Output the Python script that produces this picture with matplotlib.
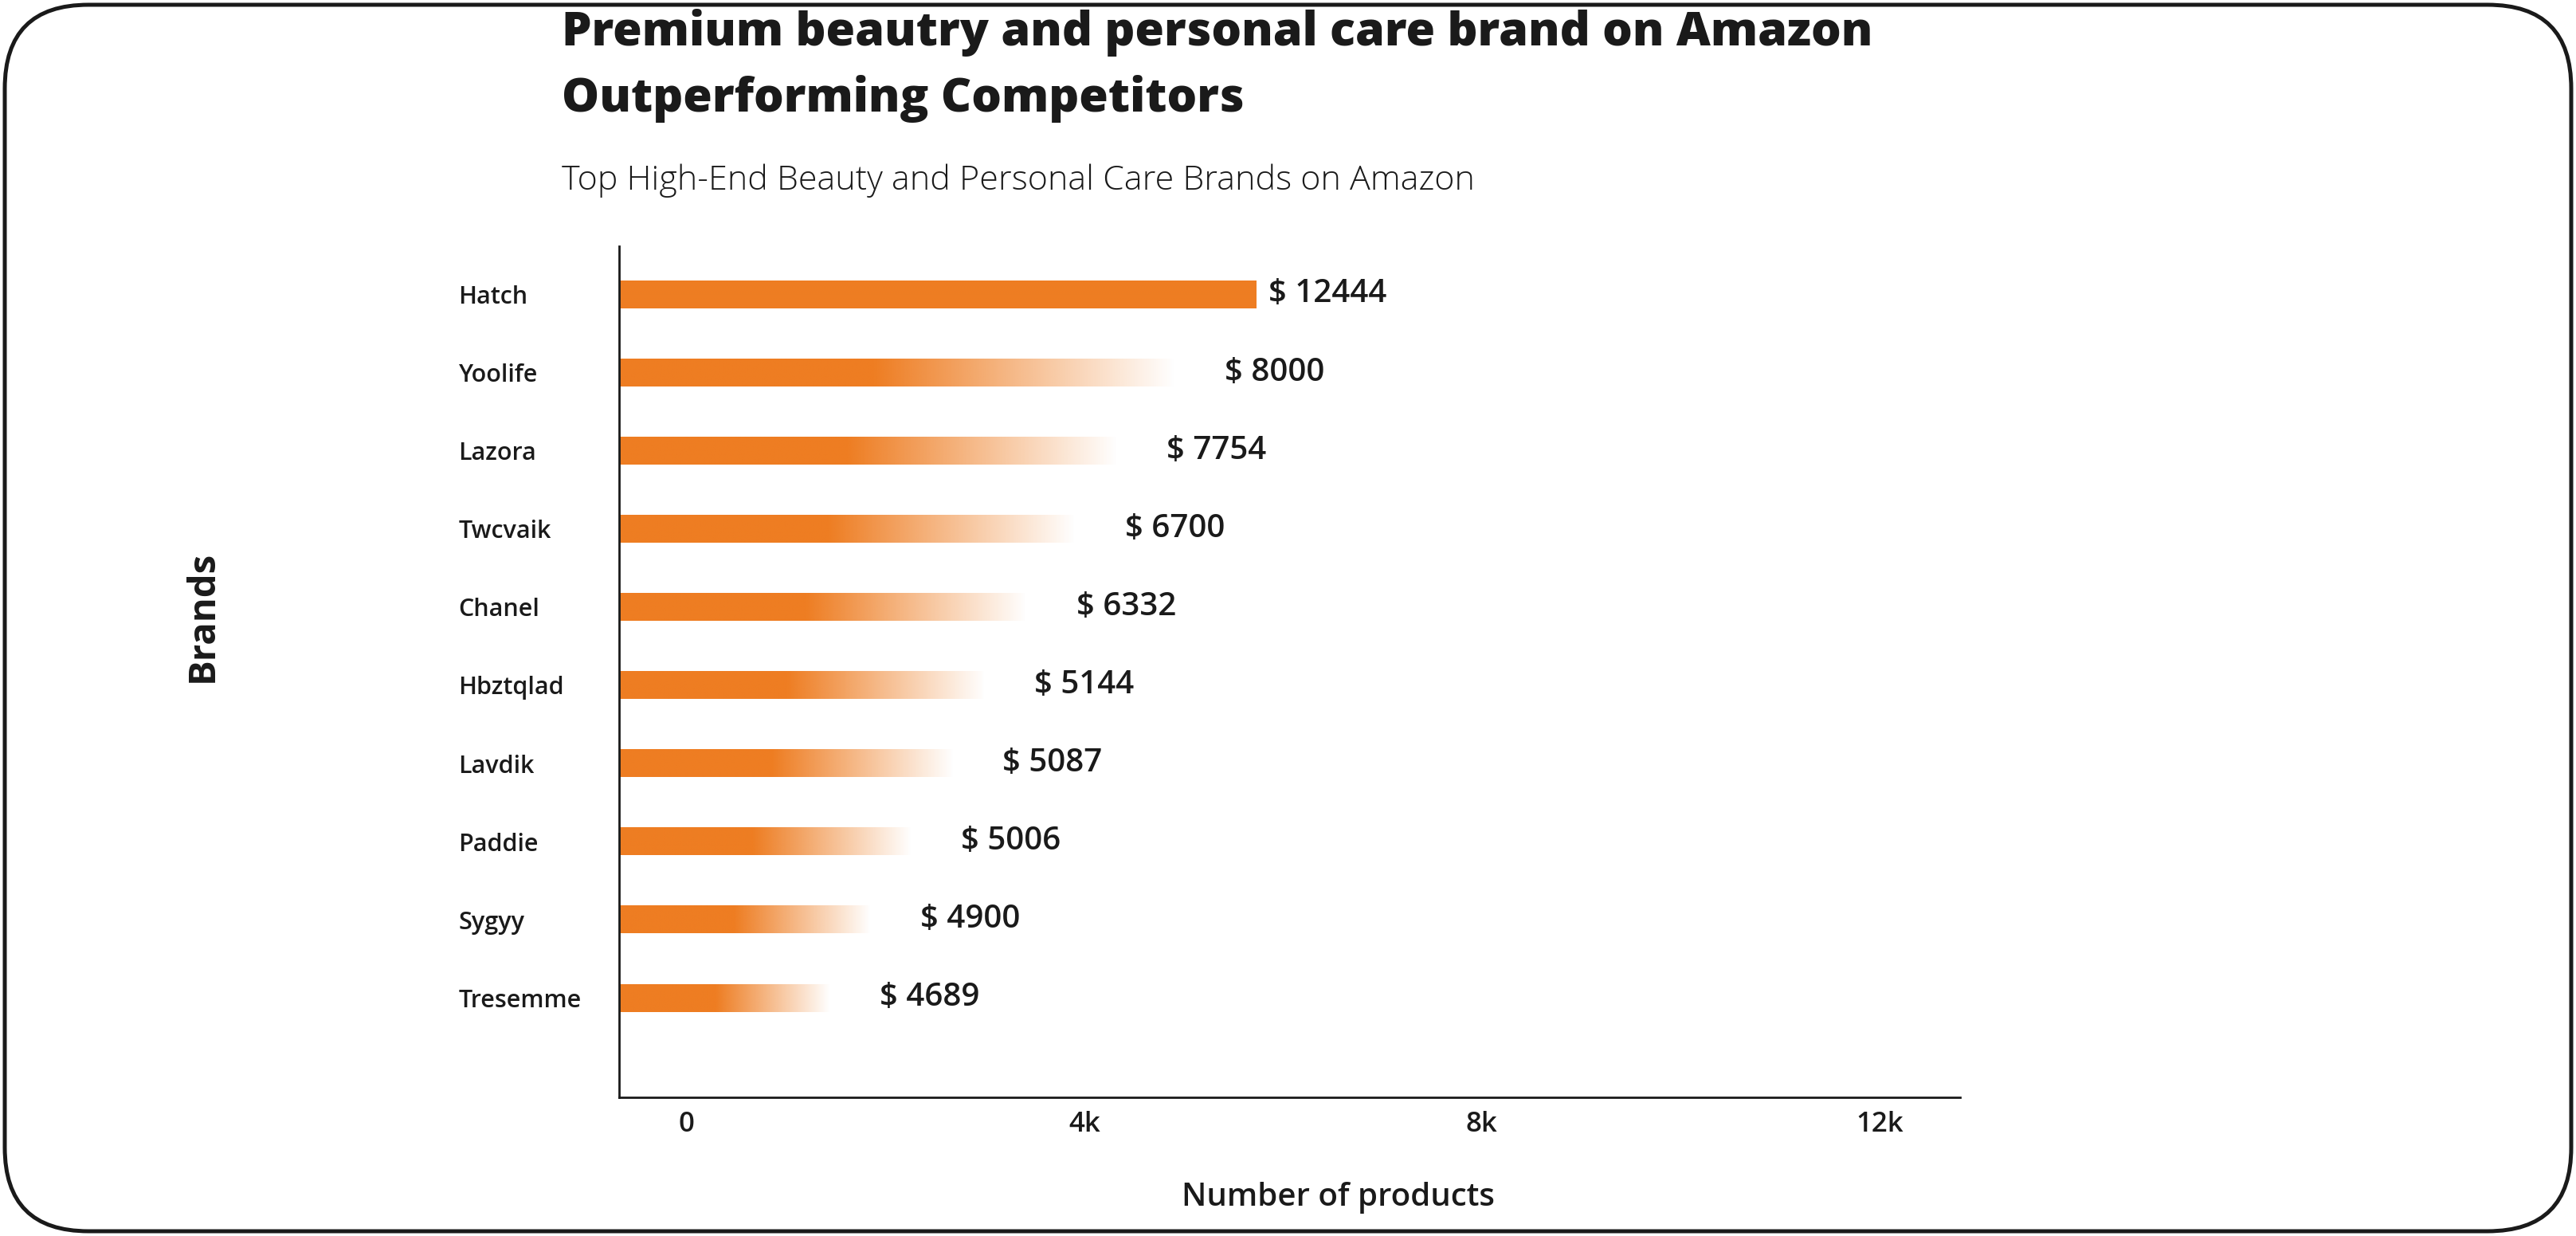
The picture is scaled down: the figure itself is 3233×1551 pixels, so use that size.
import numpy as np
import matplotlib.pyplot as plt
from matplotlib.patches import FancyBboxPatch
from matplotlib.colors import to_rgb

# Data
brands = ["Hatch", "Yoolife", "Lazora", "Twcvaik", "Chanel",
          "Hbztqlad", "Lavdik", "Paddie", "Sygyy", "Tresemme"]
revenue = [12444, 8000, 7754, 6700, 6332, 5144, 5087, 5006, 4900, 4689]
# drawn bar ends, in axis units (the chart does not draw them to scale)
bar_end = [5730, 4910, 4330, 3910, 3420, 3000, 2680, 2260, 1850, 1440]
x_ticks = [0, 4000, 8000, 12000]
x_tick_labels = ["0", "4k", "8k", "12k"]

orange = "#EE7D22"
font = "Open Sans"
plt.rcParams['font.family'] = [font, 'DejaVu Sans']

fig = plt.figure(figsize=(32.33, 15.51), dpi=100)
ax = fig.add_axes([0.2403, 0.1122, 0.5206, 0.6886])

x_left = -680
bar_h = 0.35
rgb = np.array(to_rgb(orange))

for i, end in enumerate(bar_end):
    n = 400
    t = np.linspace(0, 1, n)
    if i == 0:
        alpha = np.ones(n)
    else:
        # solid for a bit under half, then fading out to white
        alpha = np.clip((1 - t) / (1 - 0.46), 0, 1)
    img = np.zeros((1, n, 4))
    img[0, :, :3] = rgb
    img[0, :, 3] = alpha
    ax.imshow(img, extent=[x_left, end, i + bar_h / 2, i - bar_h / 2],
              aspect='auto', interpolation='bilinear', zorder=2)
    off = 120 if i == 0 else 500
    ax.text(end + off, i, "$ {}".format(revenue[i]), va='center', ha='left',
            fontsize=29, fontweight='semibold', color='#1a1a1a')

ax.set_xlim(x_left, 12810)
ax.set_ylim(10.27, -0.616)

ax.set_xticks(x_ticks)
ax.set_xticklabels(x_tick_labels, fontsize=25, fontweight='semibold', color='#1a1a1a')
ax.set_yticks(range(len(brands)))
ax.set_yticklabels(brands, fontsize=22, fontweight='semibold', color='#1a1a1a')
for lab in ax.get_yticklabels():
    lab.set_horizontalalignment('left')
ax.tick_params(axis='y', length=0, pad=145)
ax.tick_params(axis='x', length=0, pad=12)

for s in ['top', 'right']:
    ax.spines[s].set_visible(False)
for s in ['left', 'bottom']:
    ax.spines[s].set_linewidth(2)
    ax.spines[s].set_color('#1a1a1a')

# titles
fig.text(705 / 3233, 1 - 41 / 1551, "Premium beautry and personal care brand on Amazon",
         fontsize=42.7, fontweight='extra bold', va='center', ha='left', color='#1a1a1a')
fig.text(705 / 3233, 1 - 124 / 1551, "Outperforming Competitors",
         fontsize=42.7, fontweight='extra bold', va='center', ha='left', color='#1a1a1a')
fig.text(705 / 3233, 1 - 227 / 1551, "Top High-End Beauty and Personal Care Brands on Amazon",
         fontsize=31, fontweight='light', va='center', ha='left', color='#1a1a1a')

fig.text(1680 / 3233, 1 - 1503 / 1551, "Number of products", fontsize=29,
         fontweight='semibold', ha='center', va='center', color='#1a1a1a')
fig.text(254 / 3233, 1 - 773 / 1551, "Brands", fontsize=34, rotation=90,
         fontweight='bold', ha='center', va='center', color='#1a1a1a')

# rounded frame around the card
frame = FancyBboxPatch((0.06, 0.06), 32.21, 15.39,
                       boxstyle="round,pad=0,rounding_size=1.05",
                       transform=fig.dpi_scale_trans, fill=False,
                       edgecolor='#1a1a1a', linewidth=3.6)
fig.patches.append(frame)

fig.savefig("out.png", dpi=100)
